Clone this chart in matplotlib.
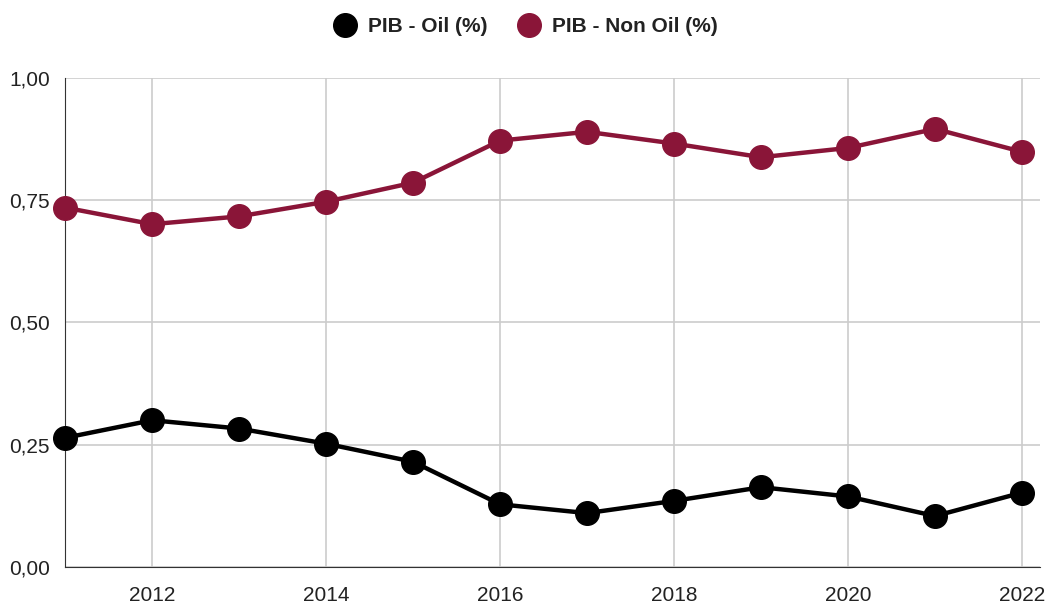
import matplotlib
matplotlib.use("Agg")
import matplotlib.pyplot as plt
from matplotlib.ticker import FuncFormatter

# -----------------------------
# Dados
# -----------------------------
anos = [2011, 2012, 2013, 2014, 2015, 2016, 2017, 2018, 2019, 2020, 2021, 2022]
pib_oil = [0.264, 0.300, 0.283, 0.252, 0.215, 0.128, 0.110, 0.135, 0.163, 0.144, 0.104, 0.152]
pib_non_oil = [0.735, 0.701, 0.717, 0.747, 0.786, 0.872, 0.890, 0.866, 0.838, 0.857, 0.896, 0.849]
yticks = [0.0, 0.25, 0.5, 0.75, 1.0]
xticks = [2012, 2014, 2016, 2018, 2020, 2022]

plt.rcParams["font.family"] = ["Liberation Sans", "DejaVu Sans"]

# -----------------------------
# Plot
# -----------------------------
fig = plt.figure(figsize=(10.5, 6.05), dpi=100)
ax = fig.add_axes([0.062, 0.063, 0.928, 0.808])

ax.plot(anos, pib_oil, color="black", lw=3.2, marker="o", ms=17,
        label="PIB - Oil (%)", clip_on=False, zorder=3)
ax.plot(anos, pib_non_oil, color="#8a1538", lw=3.2, marker="o", ms=17,
        label="PIB - Non Oil (%)", clip_on=False, zorder=3)

ax.set_xlim(2011, 2022.2)
ax.set_ylim(0, 1)
ax.set_xticks(xticks)
ax.set_yticks(yticks)
ax.yaxis.set_major_formatter(FuncFormatter(lambda v, p: f"{v:.2f}".replace(".", ",")))
ax.tick_params(length=0, labelsize=15, colors="#222222")
ax.tick_params(axis="x", pad=14)
ax.tick_params(axis="y", pad=11)

ax.grid(True, color="#cccccc", lw=1.2)
ax.set_axisbelow(True)
for s in ["top", "right"]:
    ax.spines[s].set_visible(False)
ax.spines["left"].set_color("#333333")
ax.spines["bottom"].set_color("#333333")

leg = fig.legend(loc="upper center", bbox_to_anchor=(0.502, 1.003), ncol=2,
                 frameon=False, fontsize=15, handlelength=0.8, markerscale=1.0,
                 columnspacing=1.6, handletextpad=0.7)
for h in leg.legend_handles:
    h.set_linestyle("none")
for t in leg.get_texts():
    t.set_fontweight("bold")
    t.set_color("#222222")

fig.savefig("out.png", dpi=100)
